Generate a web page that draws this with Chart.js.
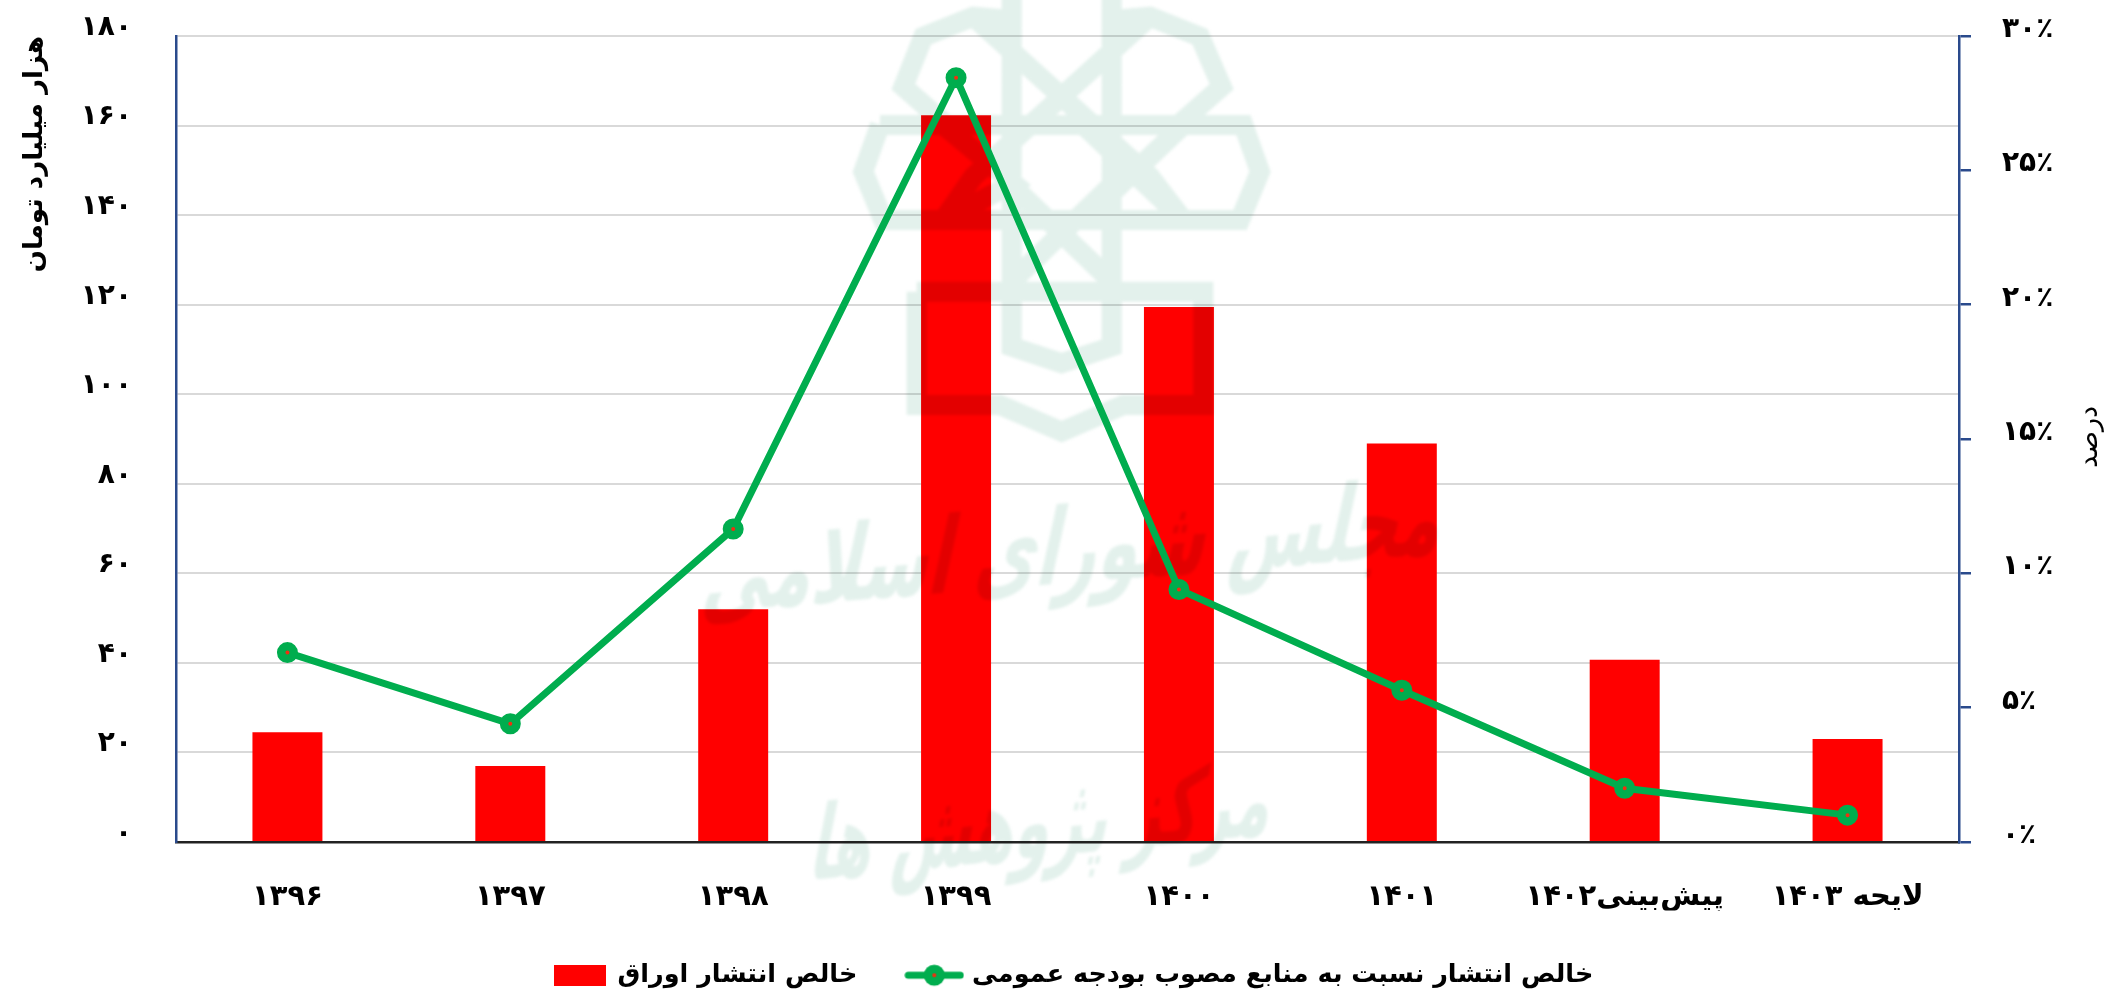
<!DOCTYPE html>
<html lang="fa"><head><meta charset="utf-8">
<style>html,body{margin:0;padding:0;background:#fff}canvas{display:block}</style>
<script src="https://cdn.jsdelivr.net/npm/chart.js@4"></script>
</head><body><canvas id="c" width="2108" height="998"></canvas>
<script>
const categories = ['۱۳۹۶','۱۳۹۷','۱۳۹۸','۱۳۹۹','۱۴۰۰','۱۴۰۱','پیش‌بینی۱۴۰۲','لایحه ۱۴۰۳'];
const netIssuance = [24.5, 17, 52, 162.3, 119.5, 89, 40.7, 23];
const shareOfBudget = [7.05, 4.4, 11.65, 28.45, 9.4, 5.65, 2.0, 1.0];
const leftTickLabels = ['۰','۲۰','۴۰','۶۰','۸۰','۱۰۰','۱۲۰','۱۴۰','۱۶۰','۱۸۰'];
const rightTickLabels = ['۰٪','۵٪','۱۰٪','۱۵٪','۲۰٪','۲۵٪','۳۰٪'];
const barLabel = 'خالص انتشار اوراق';
const lineLabel = 'خالص انتشار نسبت به منابع مصوب بودجه عمومی';
const leftTitle = 'هزار میلیارد تومان';
const rightTitle = 'درصد';
const FONT = '"DejaVu Sans"';
const GREEN = '#00AD4E', NAVY = '#2A4A8C';

function legendBox(){const c=document.createElement('canvas');c.width=52;c.height=21;const g=c.getContext('2d');g.fillStyle='#FF0000';g.fillRect(0,0,52,21);return c;}
function legendLine(){const c=document.createElement('canvas');c.width=60;c.height=24;const g=c.getContext('2d');
  g.strokeStyle=GREEN;g.lineWidth=7;g.lineCap='round';g.beginPath();g.moveTo(4,12);g.lineTo(56,12);g.stroke();
  g.fillStyle=GREEN;g.beginPath();g.arc(30,12,10.5,0,7);g.fill();g.fillStyle='#F03010';g.beginPath();g.arc(30,12,2,0,7);g.fill();return c;}

// faint logo + calligraphy behind the data (decorative watermark)
const Z=(x,y)=>[850+x/3,y/3];
const logoPaths=[
 [[485,-10],[485,1040],[635,1090],[785,1040],[785,-10]],
 [[485,60],[370,50],[220,110],[160,260],[290,375]],
 [[785,60],[900,50],[1050,110],[1115,260],[985,375]],
 [[370,50],[900,530],[1000,660]],[[900,50],[370,530],[280,660]],
 [[90,375],[1180,375],[1230,515],[1170,660],[100,660],[40,515],[90,375]],
 [[700,375],[1000,660]],[[1000,375],[700,660]],
 [[280,375],[490,550],[280,660]],
 [[490,560],[780,840]],[[780,560],[490,840]],
 [[200,875],[1060,875],[1060,1215],[820,1215],[635,1295],[450,1215],[200,1215],[200,875]]
];
const watermark={id:'watermark',afterDatasetDraw(chart,args){
  if(args.index!==0)return;const g=chart.ctx;g.save();
  g.globalCompositeOperation='multiply';g.filter='blur(1.5px)';
  g.strokeStyle='#E3F1EC';g.lineWidth=20;g.lineJoin='miter';g.beginPath();
  logoPaths.forEach(p=>p.forEach((q,i)=>{const [x,y]=Z(q[0],q[1]);i?g.lineTo(x,y):g.moveTo(x,y);}));
  g.stroke();
  g.fillStyle='#E3F1EC';g.textAlign='center';g.textBaseline='middle';g.direction='rtl';
  g.save();g.translate(1075,555);g.transform(1,-0.08,-0.35,1.6,0,0);g.font='bold 67px '+FONT;g.fillText('مجلس شورای اسلامی',0,0);g.restore();
  g.save();g.translate(1043,830);g.transform(1,-0.1,-0.35,1.8,0,0);g.font='bold 58px '+FONT;g.fillText('مرکز پژوهش ها',0,0);g.restore();
  g.restore();
}};
const rightTitlePlugin={id:'rightTitle',afterDraw(chart){const g=chart.ctx;g.save();g.translate(2090,437);g.rotate(-Math.PI/2);
  g.font='27px '+FONT;g.fillStyle='#000';g.textAlign='center';g.textBaseline='middle';g.fillText(rightTitle,0,0);g.restore();}};
const legendShift={id:'legendShift',afterLayout(chart){chart.legend.left+=40;}};

new Chart(document.getElementById('c'),{
  type:'bar',
  data:{labels:categories,datasets:[
    {type:'bar',label:barLabel,data:netIssuance,yAxisID:'y',backgroundColor:'#FF0000',barPercentage:0.314,categoryPercentage:1,order:2},
    {type:'line',label:lineLabel,data:shareOfBudget,yAxisID:'y1',borderColor:GREEN,borderWidth:7,pointRadius:6.25,pointBorderWidth:8.5,pointBorderColor:GREEN,pointBackgroundColor:'#F03010',tension:0,fill:false,order:1}
  ]},
  plugins:[watermark,rightTitlePlugin,legendShift],
  options:{responsive:false,animation:false,devicePixelRatio:1,
    layout:{padding:{top:36,left:0,right:0,bottom:0}},
    font:{family:FONT},
    plugins:{tooltip:{enabled:false},title:{display:false},
      legend:{display:true,position:'bottom',labels:{font:{family:FONT,size:25.5,weight:'bold'},color:'#000',usePointStyle:true,pointStyleWidth:50,padding:52,
        generateLabels(){return [
          {text:barLabel,pointStyle:legendBox(),fillStyle:'#FF0000',strokeStyle:'#FF0000',lineWidth:0,datasetIndex:0,fontColor:'#000'},
          {text:lineLabel,pointStyle:legendLine(),fillStyle:GREEN,strokeStyle:GREEN,lineWidth:0,datasetIndex:1,fontColor:'#000'}];}}}},
    scales:{
      x:{offset:true,grid:{display:false},border:{display:true,color:'#222',width:2.5},
        ticks:{font:{family:FONT,size:29,weight:'bold'},color:'#000',padding:30,maxRotation:0,autoSkip:false},
        afterFit(s){s.height=68.5;}},
      y:{position:'left',min:0,max:180,
        grid:{color:'#D9D9D9',lineWidth:2,drawTicks:false},border:{display:true,color:NAVY,width:2.5},
        ticks:{stepSize:20,font:{family:FONT,size:28,weight:'bold',lineHeight:0.6},color:'#000',padding:44,callback:(v,i)=>[leftTickLabels[i],'']},
        title:{display:true,text:leftTitle,align:'end',font:{family:FONT,size:26,weight:'bold'},color:'#000',padding:{top:20,bottom:0}},
        afterFit(s){s.width=176;s.paddingTop=0;s.paddingBottom=0;}},
      y1:{position:'right',min:0,max:30,
        grid:{drawOnChartArea:false,drawTicks:true,tickLength:12,color:NAVY,lineWidth:2.5},border:{display:true,color:NAVY,width:2.5},
        ticks:{stepSize:5,font:{family:FONT,size:28,weight:'bold',lineHeight:0.45},color:'#000',padding:31,callback:(v,i)=>[rightTickLabels[i],'']},
        afterFit(s){s.width=149;s.paddingTop=0;s.paddingBottom=0;}}
    }
  }
});
</script></body></html>
